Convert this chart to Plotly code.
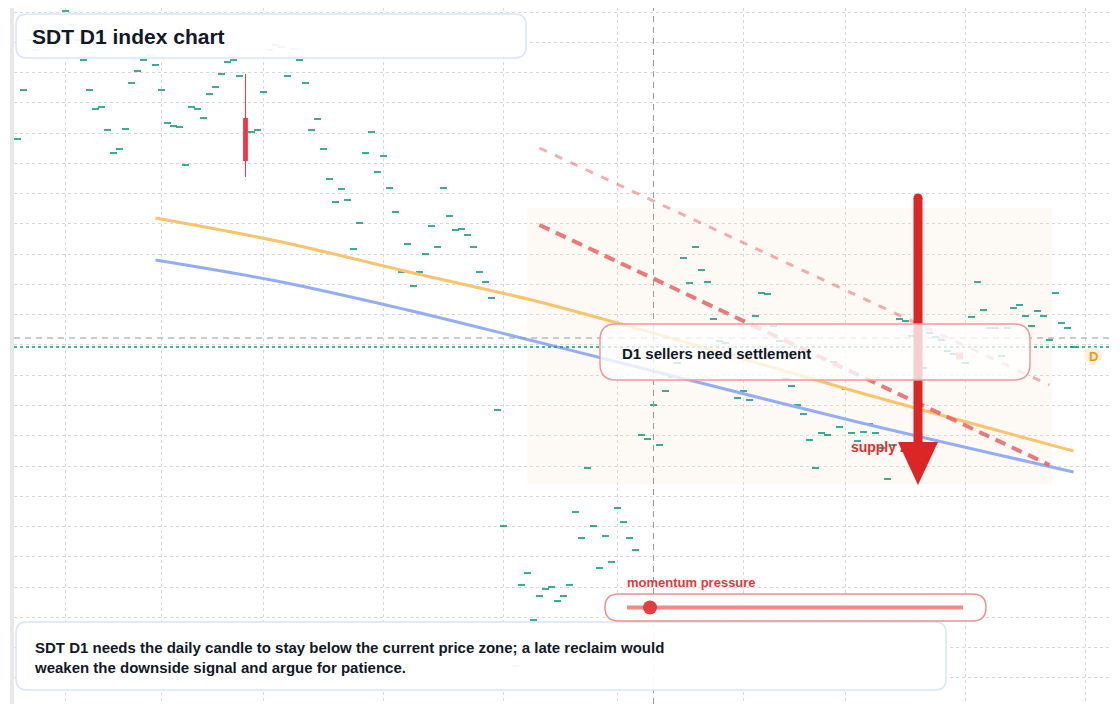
import plotly.graph_objects as go

# the page puts the figure 8px in from the top-left corner
OFF = 8
W, H = 1120 - OFF, 704 - OFF

# daily closes (doji candles, open = high = low = close); index 38 is the red candle
closes = [
    0.861, 0.910, 0.960, 0.950, 0.965, 0.970, 0.954, 0.970, 0.989, 0.975,
    0.960, 0.940, 0.910, 0.891, 0.893, 0.870, 0.847, 0.851, 0.871, 0.917,
    0.929, 0.940, 0.945, 0.935, 0.910, 0.877, 0.874, 0.873, 0.835, 0.893,
    0.891, 0.882, 0.906, 0.913, 0.926, 0.938, 0.940, 0.924, None, 0.868,
    0.870, 0.908, 0.950, 0.955, 0.953, 0.924, 0.951, 0.940, 0.917, 0.870,
    0.881, 0.851, 0.821, 0.798, 0.811, 0.800, 0.751, 0.777, 0.847, 0.868,
    0.828, 0.844, 0.812, 0.788, 0.728, 0.756, 0.714, 0.728, 0.746, 0.774,
    0.753, 0.812, 0.784, 0.770, 0.771, 0.765, 0.753, 0.728, 0.718, 0.702,
    0.590, 0.474, 0.350, 0.334, 0.415, 0.427, 0.380, 0.404, 0.411, 0.413,
    0.399, 0.404, 0.415, 0.488, 0.462, 0.532, 0.474, 0.432, 0.464, 0.438,
    0.492, 0.478, 0.462, 0.450, 0.565, 0.561, 0.595, 0.555, 0.609, 0.623,
    0.637, 0.742, 0.717, 0.753, 0.730, 0.718, 0.681, 0.659, 0.657, 0.645,
    0.602, 0.609, 0.600, 0.684, 0.707, 0.706, 0.674, 0.659, 0.621, 0.614,
    0.595, 0.586, 0.560, 0.532, 0.567, 0.565, 0.638, 0.573, 0.611, 0.567,
    0.559, 0.568, 0.576, 0.567, 0.552, 0.521, 0.555, 0.681, 0.679, 0.664,
    0.650, 0.632, 0.667, 0.663, 0.660, 0.649, 0.646, 0.644, 0.637, 0.683,
    0.718, 0.690, 0.672, 0.672, 0.644, 0.672, 0.692, 0.695, 0.684, 0.674,
    0.689, 0.684, 0.660, 0.707, 0.677, 0.672, 0.653,
]

red_idx = 38
red_open, red_high, red_low, red_close = 0.882, 0.926, 0.823, 0.839

# moving averages (sampled on the candle index)
ema_fast_idx = [23, 44, 66, 87, 110, 140, 176]
ema_fast = [0.782, 0.758, 0.727, 0.698, 0.660, 0.608, 0.549]
ema_slow_idx = [23, 44, 65, 84, 104, 140, 176]
ema_slow = [0.740, 0.718, 0.690, 0.662, 0.632, 0.578, 0.528]

# descending resistance lines
res_idx = [87, 172]
res_upper = [0.852, 0.615]
res_lower = [0.775, 0.535]

# supply zone and markers
zone_idx = (85, 172.4)
zone_price = (0.516, 0.792)
signal_idx, signal_price = 157, 0.644
cross_idx, cross_price = 106, 0.662
last_price = closes[-1]

month_ticks = [8, 24, 41, 61, 81, 100, 121, 138, 158, 178]

TEAL = "#089981"
RED = "#f23645"
FONT = "Liberation Sans, Arial, sans-serif"
DARK = "#111827"


def px(x):
    return (x - OFF) / W


def py(y):
    return 1 - (y - OFF) / H


def rrect(x0, y0, x1, y1, r):
    a, b, c, d = px(x0), py(y0), px(x1), py(y1)
    rx, ry = r / W, r / H
    return (
        f"M {a + rx},{b} L {c - rx},{b} Q {c},{b} {c},{b - ry} "
        f"L {c},{d + ry} Q {c},{d} {c - rx},{d} L {a + rx},{d} "
        f"Q {a},{d} {a},{d + ry} L {a},{b - ry} Q {a},{b} {a + rx},{b} Z"
    )


doji_x = [i for i, v in enumerate(closes) if v is not None]
doji_v = [v for v in closes if v is not None]

fig = go.Figure()

# doji candles: open == close, so each one is a short flat tick
fig.add_trace(go.Scatter(
    x=doji_x, y=doji_v, mode="markers",
    marker=dict(symbol="line-ew", size=5, line=dict(color=TEAL, width=1.6)),
    showlegend=False, hoverinfo="skip",
))
# the one bearish candle: wick + body
fig.add_trace(go.Scatter(
    x=[red_idx, red_idx], y=[red_low, red_high], mode="lines",
    line=dict(color=RED, width=1), showlegend=False, hoverinfo="skip",
))
fig.add_trace(go.Bar(
    x=[red_idx], y=[red_open - red_close], base=[red_close], width=0.8,
    marker=dict(color=RED, line=dict(width=0)), showlegend=False, hoverinfo="skip",
))

fig.add_trace(go.Scatter(x=ema_fast_idx, y=ema_fast, mode="lines",
                         line=dict(color="#f9c46b", width=3, shape="spline"),
                         showlegend=False, hoverinfo="skip"))
fig.add_trace(go.Scatter(x=ema_slow_idx, y=ema_slow, mode="lines",
                         line=dict(color="#94adf7", width=3, shape="spline"),
                         showlegend=False, hoverinfo="skip"))
fig.add_trace(go.Scatter(x=res_idx, y=res_upper, mode="lines",
                         line=dict(color="rgba(233,110,110,0.55)", width=3, dash="8px,9px"),
                         showlegend=False, hoverinfo="skip"))
fig.add_trace(go.Scatter(x=res_idx, y=res_lower, mode="lines",
                         line=dict(color="rgba(229,90,90,0.8)", width=4, dash="11px,7px"),
                         showlegend=False, hoverinfo="skip"))
fig.add_trace(go.Scatter(x=[signal_idx], y=[signal_price], mode="markers",
                         marker=dict(symbol="square", size=7, color="#f07f7f"),
                         showlegend=False, hoverinfo="skip"))
fig.add_trace(go.Scatter(x=[138.9], y=[0.552], mode="text", text=["supply zone"],
                         textposition="middle right",
                         textfont=dict(family=FONT, size=14, color="#e03131", weight="bold"),
                         showlegend=False, hoverinfo="skip"))

shapes = [
    # supply zone
    dict(type="rect", xref="x", yref="y", x0=zone_idx[0], x1=zone_idx[1],
         y0=zone_price[0], y1=zone_price[1], fillcolor="#fdf9f5",
         line=dict(width=0), layer="below"),
    # left edge band
    dict(type="rect", xref="paper", yref="paper", x0=px(8), x1=px(10), y0=0, y1=1,
         fillcolor="white", line=dict(width=0)),
    dict(type="rect", xref="paper", yref="paper", x0=px(10), x1=px(14), y0=0, y1=1,
         fillcolor="#e8e8e8", line=dict(width=0)),
    # crosshair and last price
    dict(type="line", xref="x", yref="paper", x0=cross_idx, x1=cross_idx, y0=0, y1=1,
         line=dict(color="#9a9a9a", width=1, dash="6px,5px")),
    dict(type="line", xref="paper", yref="y", x0=px(14), x1=px(1114),
         y0=cross_price, y1=cross_price, line=dict(color="#9a9a9a", width=1, dash="6px,5px")),
    dict(type="line", xref="paper", yref="y", x0=px(14), x1=px(1114),
         y0=last_price, y1=last_price, line=dict(color=TEAL, width=1.5, dash="dot")),
    # arrow
    dict(type="line", xref="paper", yref="paper", x0=px(918), x1=px(918),
         y0=py(198), y1=py(446), line=dict(color="#dc2626", width=9)),
    dict(type="circle", xref="paper", yref="paper", x0=px(913.5), x1=px(922.5),
         y0=py(202.5), y1=py(193.5), fillcolor="#dc2626", line=dict(width=0)),
    dict(type="path", xref="paper", yref="paper",
         path=f"M {px(898)},{py(442)} L {px(938)},{py(442)} L {px(918)},{py(485)} Z",
         fillcolor="#dc2626", line=dict(width=0)),
    # boxes
    dict(type="path", xref="paper", yref="paper", path=rrect(600, 324, 1030, 380, 16),
         fillcolor="rgba(255,255,255,0.78)", line=dict(color="#ef9a9a", width=1.5)),
    dict(type="path", xref="paper", yref="paper", path=rrect(16, 14, 526, 58, 11),
         fillcolor="rgba(255,255,255,0.93)", line=dict(color="#d8e5fb", width=1.5)),
    dict(type="path", xref="paper", yref="paper", path=rrect(16, 622, 946, 690, 11),
         fillcolor="rgba(255,255,255,0.93)", line=dict(color="#d8e5fb", width=1.5)),
    # momentum gauge
    dict(type="path", xref="paper", yref="paper", path=rrect(605, 594, 986, 621, 13.5),
         fillcolor="rgba(255,255,255,0.93)", line=dict(color="#ef8f8f", width=1.5)),
    dict(type="line", xref="paper", yref="paper", x0=px(627), x1=px(963),
         y0=py(607.5), y1=py(607.5), line=dict(color="#ee8a8a", width=4)),
    dict(type="circle", xref="paper", yref="paper", x0=px(643), x1=px(657),
         y0=py(614.5), y1=py(600.5), fillcolor="#e53e3e", line=dict(width=0)),
    # right price badges
    dict(type="circle", xref="paper", yref="paper", x0=px(1084), x1=px(1102),
         y0=py(365), y1=py(347), fillcolor="#fff1dc", line=dict(width=0)),
    dict(type="rect", xref="paper", yref="paper", x0=px(1114), x1=1, y0=py(349), y1=py(328),
         fillcolor="#111111", line=dict(width=0)),
]

annotations = [
    dict(text="SDT D1 index chart", x=px(30), y=py(36), size=21),
    dict(text="D1 sellers need settlement", x=px(619.5), y=py(353), size=15),
    dict(text="SDT D1 needs the daily candle to stay below the current price zone; a late reclaim would"
              "<br>weaken the downside signal and argue for patience.",
         x=px(31.5), y=py(657), size=15),
    dict(text="momentum pressure", x=px(625), y=py(582), size=13, color="#e03b3b"),
]
ann = []
for a in annotations:
    ann.append(dict(
        text=a["text"], x=a["x"], y=a["y"], xref="paper", yref="paper",
        xanchor="left", yanchor="middle", align="left", showarrow=False,
        font=dict(family=FONT, size=a["size"], color=a.get("color", DARK), weight="bold"),
    ))
ann.append(dict(text="D", x=px(1093), y=py(356), xref="paper", yref="paper",
                xanchor="center", yanchor="middle", showarrow=False,
                font=dict(family=FONT, size=13, color="#f7931a", weight="bold")))

# x: candle i sits at 17.5 + 6*i px on the page; y: 1000 px per price unit
x_min = (OFF - 17.5) / 6
fig.update_layout(
    width=W, height=H,
    margin=dict(l=0, r=0, t=0, b=0),
    paper_bgcolor="white", plot_bgcolor="white",
    showlegend=False,
    shapes=shapes,
    annotations=ann,
    xaxis=dict(range=[x_min, x_min + W / 6], tickvals=month_ticks, showticklabels=False,
               showgrid=True, gridcolor="#d9d9d9", griddash="dot", gridwidth=1,
               zeroline=False, fixedrange=True),
    yaxis=dict(range=[0.296, 1 - OFF / 1000], tick0=0.988, dtick=0.03027, showticklabels=False,
               showgrid=True, gridcolor="#d9d9d9", griddash="dot", gridwidth=1,
               zeroline=False, fixedrange=True),
)

fig.write_html("out.html")
